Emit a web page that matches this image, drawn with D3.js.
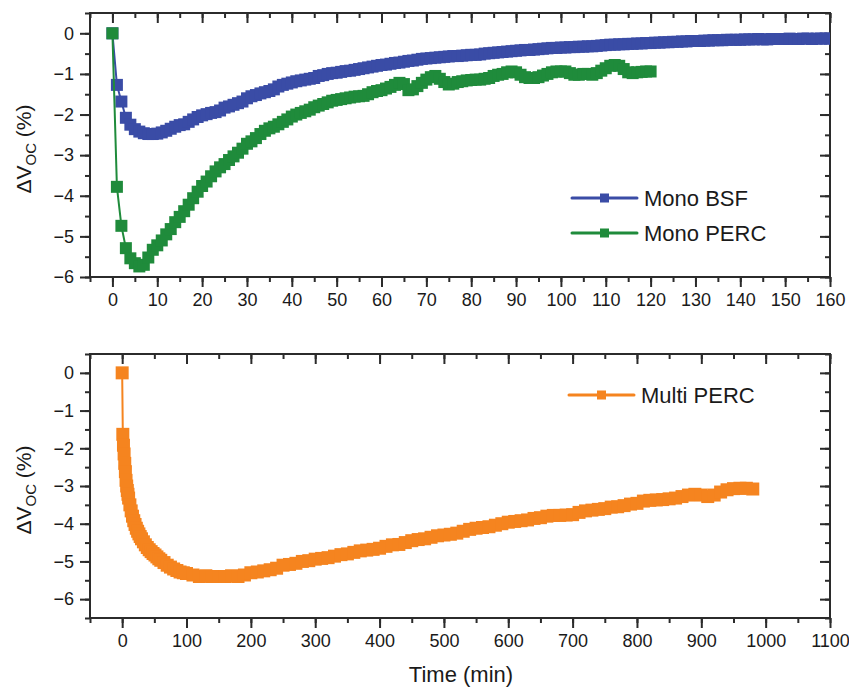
<!DOCTYPE html>
<html>
<head>
<meta charset="utf-8">
<title>Voc degradation</title>
<script src="https://cdnjs.cloudflare.com/ajax/libs/d3/7.8.5/d3.min.js"></script>
<style>
  body { margin: 0; background: #fff; }
  svg { font-family: "Liberation Sans", Arial, sans-serif; }
</style>
</head>
<body>
<svg id="chart" width="849" height="689"></svg>
<script>
// --- data ---
// Mono samples: one point per minute
var monoBsfVals = [0,
  -1.27,-1.68,-2.08,-2.25,-2.36,-2.42,-2.46,-2.48,-2.48,-2.47,
  -2.44,-2.40,-2.35,-2.30,-2.26,-2.24,-2.18,-2.12,-2.06,-2.02,
  -1.99,-1.96,-1.94,-1.90,-1.83,-1.80,-1.76,-1.72,-1.68,-1.60,
  -1.55,-1.52,-1.48,-1.45,-1.42,-1.38,-1.31,-1.27,-1.24,-1.21,
  -1.18,-1.16,-1.14,-1.12,-1.10,-1.05,-1.03,-1.00,-0.98,-0.97,
  -0.95,-0.93,-0.92,-0.90,-0.88,-0.86,-0.84,-0.82,-0.80,-0.78,
  -0.77,-0.75,-0.73,-0.72,-0.70,-0.68,-0.67,-0.65,-0.63,-0.62,
  -0.61,-0.60,-0.59,-0.58,-0.57,-0.56,-0.56,-0.55,-0.54,-0.53,
  -0.53,-0.52,-0.50,-0.49,-0.48,-0.47,-0.46,-0.45,-0.44,-0.43,
  -0.42,-0.41,-0.41,-0.40,-0.39,-0.38,-0.37,-0.36,-0.36,-0.35,
  -0.35,-0.34,-0.34,-0.33,-0.33,-0.32,-0.32,-0.31,-0.30,-0.29,
  -0.28,-0.28,-0.27,-0.27,-0.26,-0.26,-0.25,-0.25,-0.24,-0.24,
  -0.23,-0.23,-0.22,-0.22,-0.21,-0.21,-0.20,-0.20,-0.19,-0.19,
  -0.19,-0.18,-0.18,-0.17,-0.17,-0.17,-0.16,-0.16,-0.16,-0.16,
  -0.15,-0.15,-0.15,-0.14,-0.15,-0.15,-0.14,-0.14,-0.14,-0.14,
  -0.13,-0.14,-0.14,-0.13,-0.13,-0.14,-0.13,-0.13,-0.13,-0.13];

var monoPercVals = [0,
  -3.78,-4.74,-5.29,-5.54,-5.66,-5.74,-5.70,-5.52,-5.33,-5.22,
  -5.10,-4.95,-4.82,-4.65,-4.52,-4.38,-4.22,-4.06,-3.90,-3.76,
  -3.65,-3.52,-3.40,-3.30,-3.22,-3.12,-3.03,-2.94,-2.84,-2.72,
  -2.66,-2.58,-2.48,-2.40,-2.34,-2.30,-2.24,-2.18,-2.12,-2.05,
  -2.00,-1.96,-1.92,-1.88,-1.82,-1.78,-1.74,-1.70,-1.66,-1.64,
  -1.62,-1.60,-1.58,-1.56,-1.55,-1.54,-1.50,-1.45,-1.42,-1.40,
  -1.36,-1.32,-1.27,-1.22,-1.25,-1.40,-1.38,-1.30,-1.22,-1.14,
  -1.08,-1.05,-1.12,-1.20,-1.26,-1.24,-1.20,-1.18,-1.16,-1.15,
  -1.14,-1.14,-1.12,-1.10,-1.05,-1.02,-1.00,-0.96,-0.94,-0.96,
  -1.02,-1.08,-1.10,-1.10,-1.08,-1.04,-1.00,-0.96,-0.94,-0.94,
  -0.94,-0.98,-1.02,-1.02,-1.00,-1.00,-1.02,-0.98,-0.92,-0.86,
  -0.80,-0.78,-0.80,-0.88,-0.96,-0.98,-0.96,-0.95,-0.94,-0.94];

var monoBsfTime = d3.range(0, monoBsfVals.length);
var monoPercTime = d3.range(0, monoPercVals.length);

var multiTime = [0,1,2,3,4,5,6,7,8,9,10,12,14,16,18,20,22,24,26,28,30,33,36,39,42,45,48,51,54,57,60,
  65,70,75,80,85,90,95,100,110,120,130,140,150,160,170,180,190,200,210,220,230,240,250,260,270,280,290,
  300,310,320,330,340,350,360,370,380,390,400,410,420,430,440,450,460,470,480,490,500,510,520,530,540,
  550,560,570,580,590,600,610,620,630,640,650,660,670,680,690,700,710,720,730,740,750,760,770,780,790,
  800,810,820,830,840,850,860,870,880,890,900,910,920,930,940,950,960,970,980];
var multiVals = [0,-1.63,-1.92,-2.15,-2.40,-2.62,-2.85,-3.00,-3.12,-3.22,-3.32,-3.50,-3.66,-3.80,-3.92,
  -4.02,-4.12,-4.20,-4.27,-4.34,-4.40,-4.48,-4.56,-4.63,-4.69,-4.74,-4.79,-4.83,-4.88,-4.93,-4.97,
  -5.03,-5.10,-5.15,-5.20,-5.24,-5.28,-5.30,-5.32,-5.36,-5.40,-5.38,-5.40,-5.40,-5.40,-5.38,-5.40,
  -5.36,-5.30,-5.28,-5.25,-5.22,-5.18,-5.10,-5.08,-5.05,-5.00,-4.98,
  -4.94,-4.92,-4.90,-4.86,-4.82,-4.80,-4.76,-4.72,-4.70,-4.68,-4.65,-4.60,-4.56,-4.55,-4.50,-4.45,
  -4.42,-4.40,-4.36,-4.32,-4.30,-4.28,-4.25,-4.20,-4.15,
  -4.12,-4.10,-4.08,-4.04,-4.00,-3.96,-3.94,-3.92,-3.90,-3.86,-3.84,-3.80,-3.78,-3.78,-3.77,-3.76,
  -3.70,-3.66,-3.64,-3.62,-3.60,-3.56,-3.55,-3.52,-3.48,
  -3.46,-3.40,-3.38,-3.37,-3.36,-3.34,-3.32,-3.28,-3.24,-3.22,-3.24,-3.28,-3.24,-3.16,-3.10,-3.07,
  -3.06,-3.06,-3.08];

var topXTicks = d3.range(0, 161, 10);
var topYTicks = [0, -1, -2, -3, -4, -5, -6];
var botXTicks = d3.range(0, 1101, 100);
var botYTicks = [0, -1, -2, -3, -4, -5, -6];

var colBlue = "#3a4ca6", colGreen = "#1f8b3b", colOrange = "#f5841f";

var svg = d3.select("#chart");
var fmt = function(d) { return d < 0 ? "\u2212" + Math.abs(d) : String(d); };

function panel(opt) {
  var x = d3.scaleLinear().domain(opt.xDomain).range([90, 830]);
  var y = d3.scaleLinear().domain(opt.yDomain).range([opt.bottom, opt.top]);
  var g = svg.append("g");
  var tickCol = "#2b2b2b";

  // minor ticks
  var xMinor = d3.range(opt.xDomain[0], opt.xDomain[1] + 0.001, opt.xMinorStep);
  var yMinor = d3.range(opt.yDomain[0], opt.yDomain[1] + 0.001, 0.5);

  g.append("g").attr("transform", "translate(0," + opt.bottom + ")")
    .call(d3.axisBottom(x).tickValues(xMinor).tickSize(5).tickFormat(""))
    .call(function(a) { a.select(".domain").remove(); });
  g.append("g").attr("transform", "translate(0," + opt.top + ")")
    .call(d3.axisBottom(x).tickValues(xMinor).tickSize(5).tickFormat(""))
    .call(function(a) { a.select(".domain").remove(); });
  g.append("g").attr("transform", "translate(90,0)")
    .call(d3.axisLeft(y).tickValues(yMinor).tickSize(5).tickFormat(""))
    .call(function(a) { a.select(".domain").remove(); });
  g.append("g").attr("transform", "translate(830,0)")
    .call(d3.axisLeft(y).tickValues(yMinor).tickSize(5).tickFormat(""))
    .call(function(a) { a.select(".domain").remove(); });

  // major ticks + labels
  var bx = g.append("g").attr("transform", "translate(0," + opt.bottom + ")")
    .call(d3.axisBottom(x).tickValues(opt.xTicks).tickSize(10).tickPadding(6).tickFormat(fmt));
  bx.select(".domain").remove();
  bx.selectAll("text").attr("font-size", 18).attr("fill", "#1a1a1a").attr("font-family", "Liberation Sans, Arial, sans-serif");

  g.append("g").attr("transform", "translate(0," + opt.top + ")")
    .call(d3.axisBottom(x).tickValues(opt.xTicks).tickSize(10).tickFormat(""))
    .call(function(a) { a.select(".domain").remove(); });

  var ly = g.append("g").attr("transform", "translate(90,0)")
    .call(d3.axisLeft(y).tickValues(opt.yTicks).tickSize(10).tickPadding(6).tickFormat(fmt));
  ly.select(".domain").remove();
  ly.selectAll("text").attr("font-size", 18).attr("fill", "#1a1a1a").attr("font-family", "Liberation Sans, Arial, sans-serif");

  g.append("g").attr("transform", "translate(830,0)")
    .call(d3.axisLeft(y).tickValues(opt.yTicks).tickSize(10).tickFormat(""))
    .call(function(a) { a.select(".domain").remove(); });

  g.selectAll(".tick line").attr("stroke", tickCol).attr("stroke-width", 2);

  // frame
  g.append("rect").attr("x", 90).attr("y", opt.top)
    .attr("width", 740).attr("height", opt.bottom - opt.top)
    .attr("fill", "none").attr("stroke", tickCol).attr("stroke-width", 2);

  // y title
  var t = g.append("text")
    .attr("transform", "translate(31," + ((opt.top + opt.bottom) / 2 + 4) + ") rotate(-90)")
    .attr("text-anchor", "middle").attr("font-size", 21).attr("fill", "#1a1a1a");
  t.append("tspan").text("\u0394V");
  t.append("tspan").attr("font-size", 15).attr("dy", 5).text("OC");
  t.append("tspan").attr("dy", -5).text(" (%)");

  // clip so markers stay inside
  var cid = "clip" + opt.top;
  svg.append("clipPath").attr("id", cid).append("rect")
    .attr("x", 90).attr("y", opt.top).attr("width", 740).attr("height", opt.bottom - opt.top);
  var plot = g.append("g").attr("clip-path", "url(#" + cid + ")");

  opt.series.forEach(function(s) {
    var pts = s.time.map(function(tm, i) { return [tm, s.vals[i]]; });
    plot.append("path").datum(pts)
      .attr("fill", "none").attr("stroke", s.color).attr("stroke-width", 2)
      .attr("d", d3.line().x(function(d) { return x(d[0]); }).y(function(d) { return y(d[1]); }));
    plot.append("g").selectAll("path").data(pts).enter().append("path")
      .attr("transform", function(d) { return "translate(" + x(d[0]) + "," + y(d[1]) + ")"; })
      .attr("d", d3.symbol(d3.symbolSquare, s.size * s.size))
      .attr("fill", s.color);
  });

  // legend
  opt.legend.forEach(function(l) {
    var lg = g.append("g");
    lg.append("line").attr("x1", l.x).attr("x2", l.x + 65).attr("y1", l.y).attr("y2", l.y)
      .attr("stroke", l.color).attr("stroke-width", 3).attr("stroke-linecap", "round");
    lg.append("rect").attr("x", l.x + 32.5 - 4.5).attr("y", l.y - 4.5).attr("width", 9).attr("height", 9)
      .attr("fill", l.color);
    lg.append("text").attr("x", l.x + 72).attr("y", l.y + 8).attr("font-size", 22)
      .attr("fill", "#1a1a1a").text(l.label);
  });
}

panel({
  top: 13, bottom: 277,
  xDomain: [-5, 160], yDomain: [-6, 0.5], xMinorStep: 5,
  xTicks: topXTicks, yTicks: topYTicks,
  series: [
    { time: monoBsfTime, vals: monoBsfVals, color: colBlue, size: 12 },
    { time: monoPercTime, vals: monoPercVals, color: colGreen, size: 12 }
  ],
  legend: [
    { x: 572, y: 198, color: colBlue, label: "Mono BSF" },
    { x: 572, y: 233, color: colGreen, label: "Mono PERC" }
  ]
});

panel({
  top: 354, bottom: 618,
  xDomain: [-50, 1100], yDomain: [-6.5, 0.5], xMinorStep: 50,
  xTicks: botXTicks, yTicks: botYTicks,
  series: [
    { time: multiTime, vals: multiVals, color: colOrange, size: 13 }
  ],
  legend: [
    { x: 569, y: 395, color: colOrange, label: "Multi PERC" }
  ]
});

svg.append("text").attr("x", 461).attr("y", 682).attr("text-anchor", "middle")
  .attr("font-size", 22).attr("fill", "#1a1a1a").text("Time (min)");
</script>
</body>
</html>
